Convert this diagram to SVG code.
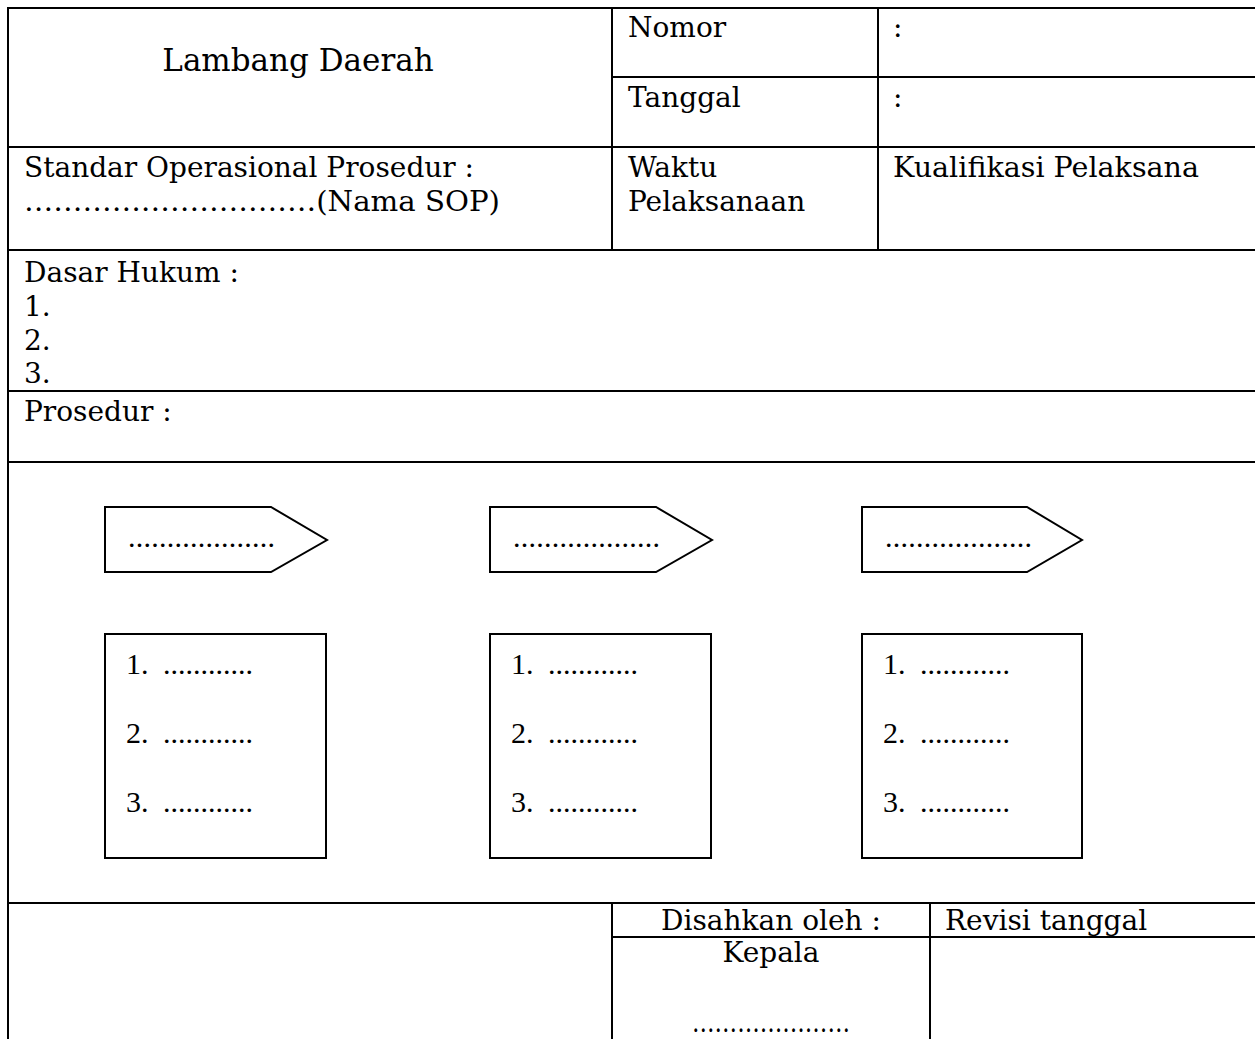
<svg xmlns="http://www.w3.org/2000/svg" width="1255" height="1039" viewBox="0 0 1255 1039">
<style>
.ln{stroke:#000;stroke-width:2;fill:none}
.t{font-family:"DejaVu Serif","Liberation Serif",serif;font-size:28px;fill:#000}
.tl{font-family:"DejaVu Serif","Liberation Serif",serif;font-size:31px;fill:#000}
.tm{font-family:"Liberation Serif","Times New Roman",serif;font-size:30px;fill:#000}
.shape{fill:#fff;stroke:#000;stroke-width:2}
</style>
<rect width="1255" height="1039" fill="#fff"/>
<g id="table">
<line class="ln" x1="8" y1="8" x2="1260" y2="8"/>
<line class="ln" x1="8" y1="7" x2="8" y2="1039"/>
<line class="ln" x1="612" y1="8" x2="612" y2="251"/>
<line class="ln" x1="878" y1="8" x2="878" y2="251"/>
<line class="ln" x1="612" y1="77" x2="1260" y2="77"/>
<line class="ln" x1="8" y1="147" x2="1260" y2="147"/>
<line class="ln" x1="8" y1="250" x2="1260" y2="250"/>
<line class="ln" x1="8" y1="391" x2="1260" y2="391"/>
<line class="ln" x1="8" y1="462" x2="1260" y2="462"/>
<line class="ln" x1="8" y1="903" x2="1260" y2="903"/>
<line class="ln" x1="612" y1="903" x2="612" y2="1039"/>
<line class="ln" x1="930" y1="903" x2="930" y2="1039"/>
<line class="ln" x1="612" y1="937" x2="1260" y2="937"/>
</g>
<g id="header-text">
<text class="tl" x="298" y="71" text-anchor="middle">Lambang Daerah</text>
<text class="t" x="628" y="37">Nomor</text>
<text class="t" x="893" y="37">:</text>
<text class="t" x="628" y="107">Tanggal</text>
<text class="t" x="893" y="107">:</text>
<text class="t" x="24" y="177">Standar Operasional Prosedur :</text>
<text class="t" x="24" y="211" textLength="476" lengthAdjust="spacingAndGlyphs">…………………………(Nama SOP)</text>
<text class="t" x="628" y="177">Waktu</text>
<text class="t" x="628" y="211">Pelaksanaan</text>
<text class="t" x="893" y="177" textLength="306" lengthAdjust="spacingAndGlyphs">Kualifikasi Pelaksana</text>
<text class="t" x="24" y="282">Dasar Hukum :</text>
<text class="t" x="24" y="316">1.</text>
<text class="t" x="24" y="350">2.</text>
<text class="t" x="24" y="383">3.</text>
<text class="t" x="24" y="421">Prosedur :</text>
</g>
<g id="step1">
<polygon class="shape" points="105,507 271,507 327,540 271,572 105,572"/>
<text class="tm" x="128" y="547" textLength="147" lengthAdjust="spacing">...................</text>
</g>
<g id="step2">
<polygon class="shape" points="490,507 656,507 712,540 656,572 490,572"/>
<text class="tm" x="513" y="547" textLength="147" lengthAdjust="spacing">...................</text>
</g>
<g id="step3">
<polygon class="shape" points="862,507 1027,507 1082,540 1027,572 862,572"/>
<text class="tm" x="885" y="547" textLength="147" lengthAdjust="spacing">...................</text>
</g>
<g id="list1">
<rect class="shape" x="105" y="634" width="221" height="224"/>
<text class="tm" x="126" y="674">1.</text><text class="tm" x="163" y="674">............</text>
<text class="tm" x="126" y="743">2.</text><text class="tm" x="163" y="743">............</text>
<text class="tm" x="126" y="812">3.</text><text class="tm" x="163" y="812">............</text>
</g>
<g id="list2">
<rect class="shape" x="490" y="634" width="221" height="224"/>
<text class="tm" x="511" y="674">1.</text><text class="tm" x="548" y="674">............</text>
<text class="tm" x="511" y="743">2.</text><text class="tm" x="548" y="743">............</text>
<text class="tm" x="511" y="812">3.</text><text class="tm" x="548" y="812">............</text>
</g>
<g id="list3">
<rect class="shape" x="862" y="634" width="220" height="224"/>
<text class="tm" x="883" y="674">1.</text><text class="tm" x="920" y="674">............</text>
<text class="tm" x="883" y="743">2.</text><text class="tm" x="920" y="743">............</text>
<text class="tm" x="883" y="812">3.</text><text class="tm" x="920" y="812">............</text>
</g>
<g id="footer-text">
<text class="t" x="771" y="930" text-anchor="middle">Disahkan oleh :</text>
<text class="t" x="945" y="930">Revisi tanggal</text>
<text class="t" x="771" y="962" text-anchor="middle">Kepala</text>
<text class="t" x="771" y="1032" text-anchor="middle" textLength="158" lengthAdjust="spacingAndGlyphs">…………………</text>
</g>
<g id="connectors"></g>
</svg>
